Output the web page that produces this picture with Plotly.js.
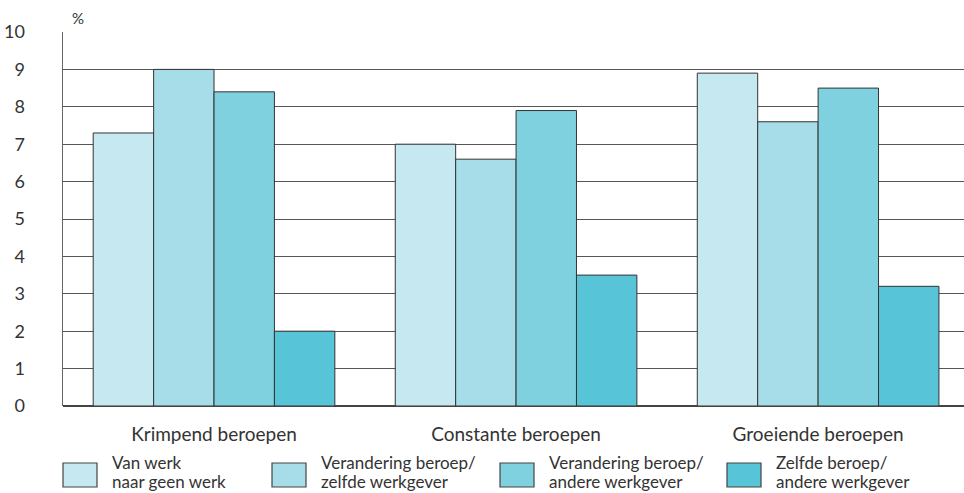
<!DOCTYPE html>
<html>
<head>
<meta charset="utf-8">
<script src="https://cdn.plot.ly/plotly-3.0.1.min.js"></script>
<style>html,body{margin:0;padding:0;background:#fff;}#chart{width:964px;height:493px;}</style>
</head>
<body>
<div id="chart"></div>
<script>
const categories = ["Krimpend beroepen", "Constante beroepen", "Groeiende beroepen"];
const seriesNames = ["Van werk<br>naar geen werk", "Verandering beroep/<br>zelfde werkgever", "Verandering beroep/<br>andere werkgever", "Zelfde beroep/<br>andere werkgever"];
const vanWerkNaarGeenWerk = [7.3, 7.0, 8.9];
const veranderingZelfdeWerkgever = [9.0, 6.6, 7.6];
const veranderingAndereWerkgever = [8.4, 7.9, 8.5];
const zelfdeBeroepAndereWerkgever = [2.0, 3.5, 3.2];
const yTicks = [0,1,2,3,4,5,6,7,8,9,10];

const seriesValues = [vanWerkNaarGeenWerk, veranderingZelfdeWerkgever, veranderingAndereWerkgever, zelfdeBeroepAndereWerkgever];
const colors = ["#c6e8f0", "#a6dde8", "#80d1e0", "#57c5d7"];
const FONT = "Lato, 'Open Sans', sans-serif";
const FS = 18;

const W = 964, H = 493, L = 63, R = 0, T = 32, B = 87;
const pw = W - L - R, ph = H - T - B;
const px = x => (x - L) / pw;
const py = y => (H - B - y) / ph;

const traces = seriesValues.map((vals, i) => ({
  type: "bar",
  x: categories,
  y: vals,
  name: seriesNames[i],
  marker: {color: colors[i], line: {color: "#333", width: 1}},
  showlegend: false,
  hoverinfo: "x+y"
}));

const legendBoxX = [63, 272, 500, 727];
const shapes = [];
const annotations = [];
legendBoxX.forEach((bx, i) => {
  shapes.push({type: "rect", xref: "paper", yref: "paper",
    x0: px(bx), x1: px(bx + 34), y0: py(487), y1: py(463),
    fillcolor: colors[i], line: {color: "#444", width: 1.2}});
  seriesNames[i].split("<br>").forEach((line, j) => {
    annotations.push({xref: "paper", yref: "paper", x: px(bx + 47), y: py(462 + j * 19.5),
      xanchor: "left", yanchor: "middle", align: "left", showarrow: false,
      text: line, font: {family: FONT, size: 17, color: "#333"}});
  });
});
annotations.push({xref: "paper", yref: "paper", x: px(70), y: py(18),
  xanchor: "left", yanchor: "middle", showarrow: false, text: "%",
  font: {family: FONT, size: 15, color: "#333"}});

const layout = {
  width: W, height: H,
  margin: {l: L, r: R, t: T, b: B, pad: 0},
  paper_bgcolor: "#fff", plot_bgcolor: "#fff",
  barmode: "group", bargap: 0.2, bargroupgap: 0,
  font: {family: FONT, size: FS, color: "#333"},
  xaxis: {type: "category", range: [-0.5, 2.483], showgrid: false,
    showline: false, zeroline: false, ticks: "outside", ticklen: 11,
    tickcolor: "rgba(0,0,0,0)", tickfont: {family: FONT, size: 19, color: "#333"}},
  yaxis: {range: [0, 10], tickvals: yTicks, ticktext: yTicks.map(String),
    showgrid: true, gridcolor: "#555", gridwidth: 1,
    showline: true, linecolor: "#666", linewidth: 1.5,
    zeroline: true, zerolinecolor: "#444", zerolinewidth: 1.5,
    ticks: "", ticklabelstandoff: 33,
    tickfont: {family: FONT, size: FS, color: "#333"}},
  shapes: shapes,
  annotations: annotations
};

Plotly.newPlot("chart", traces, layout, {displayModeBar: false, staticPlot: true});
</script>
</body>
</html>
